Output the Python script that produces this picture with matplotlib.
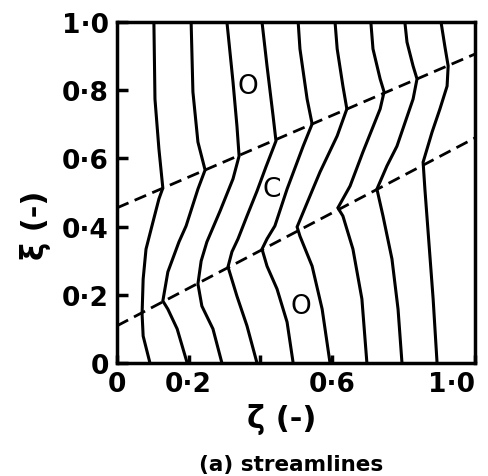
import matplotlib
matplotlib.use("Agg")
import matplotlib.pyplot as plt

# streamlines, listed bottom (xi = 0) to top (xi = 1)
zeta_1 = [0.092, 0.073, 0.070, 0.073, 0.081, 0.101, 0.117, 0.128, 0.117, 0.106, 0.103]
xi_1 = [0.0, 0.079, 0.144, 0.246, 0.334, 0.416, 0.481, 0.513, 0.628, 0.774, 1.0]

zeta_2 = [0.196, 0.168, 0.142, 0.128, 0.142, 0.173, 0.193, 0.226, 0.246, 0.226, 0.212, 0.207]
xi_2 = [0.0, 0.100, 0.158, 0.182, 0.267, 0.355, 0.402, 0.510, 0.566, 0.648, 0.795, 1.0]

zeta_3 = [0.293, 0.268, 0.237, 0.226, 0.235, 0.251, 0.288, 0.324, 0.341, 0.335, 0.324, 0.307]
xi_3 = [0.0, 0.100, 0.167, 0.232, 0.299, 0.355, 0.446, 0.540, 0.607, 0.695, 0.824, 1.0]

zeta_4 = [0.391, 0.363, 0.335, 0.310, 0.321, 0.338, 0.363, 0.391, 0.416, 0.444, 0.436, 0.419, 0.405]
xi_4 = [0.0, 0.109, 0.196, 0.282, 0.326, 0.364, 0.431, 0.504, 0.575, 0.651, 0.724, 0.871, 1.0]

zeta_5 = [0.492, 0.475, 0.447, 0.419, 0.405, 0.419, 0.441, 0.475, 0.520, 0.545, 0.531, 0.511, 0.506]
xi_5 = [0.0, 0.120, 0.217, 0.284, 0.334, 0.364, 0.402, 0.510, 0.636, 0.701, 0.774, 0.921, 1.0]

zeta_6 = [0.595, 0.573, 0.545, 0.511, 0.503, 0.547, 0.567, 0.615, 0.642, 0.631, 0.615, 0.609]
xi_6 = [0.0, 0.158, 0.284, 0.372, 0.399, 0.510, 0.560, 0.666, 0.745, 0.812, 0.921, 1.0]

zeta_7 = [0.698, 0.684, 0.659, 0.631, 0.617, 0.651, 0.687, 0.735, 0.746, 0.735, 0.715, 0.709]
xi_7 = [0.0, 0.188, 0.334, 0.431, 0.455, 0.519, 0.619, 0.745, 0.795, 0.833, 0.921, 1.0]

zeta_8 = [0.796, 0.785, 0.768, 0.743, 0.726, 0.754, 0.782, 0.827, 0.838, 0.827, 0.810, 0.804]
xi_8 = [0.0, 0.158, 0.305, 0.431, 0.510, 0.578, 0.636, 0.774, 0.833, 0.871, 0.941, 1.0]

zeta_9 = [0.894, 0.883, 0.869, 0.860, 0.855, 0.880, 0.902, 0.922, 0.925, 0.916, 0.905]
xi_9 = [0.0, 0.188, 0.384, 0.510, 0.589, 0.677, 0.745, 0.812, 0.871, 0.927, 1.0]

# zone boundaries (dashed)
upper_zeta = [0.0, 1.0]
upper_xi = [0.455, 0.906]
lower_zeta = [0.0, 1.0]
lower_xi = [0.109, 0.660]

# zone labels
zone_text = ["O", "C", "O"]
zone_zeta = [0.366, 0.433, 0.514]
zone_xi = [0.812, 0.510, 0.167]

xtick_vals = [0.0, 0.2, 0.4, 0.6, 1.0]
xtick_text = ["0", "0·2", "", "0·6", "1·0"]
ytick_vals = [0.0, 0.2, 0.4, 0.6, 0.8, 1.0]
ytick_text = ["0", "0·2", "0·4", "0·6", "0·8", "1·0"]

plt.rcParams["font.family"] = ["DejaVu Sans"]

fig = plt.figure(figsize=(4.89, 4.77), dpi=100)
ax = fig.add_axes([0.2393, 0.2369, 0.7321, 0.7149])

lines = [(zeta_1, xi_1), (zeta_2, xi_2), (zeta_3, xi_3), (zeta_4, xi_4),
         (zeta_5, xi_5), (zeta_6, xi_6), (zeta_7, xi_7), (zeta_8, xi_8),
         (zeta_9, xi_9)]
for z, x in lines:
    ax.plot(z, x, color="black", lw=2.2, solid_joinstyle="miter")

for z, x in [(upper_zeta, upper_xi), (lower_zeta, lower_xi)]:
    ax.plot(z, x, color="black", lw=2.0, dashes=(4.5, 2.4))

for t, z, x in zip(zone_text, zone_zeta, zone_xi):
    ax.text(z, x, t, ha="center", va="center", fontsize=19)

ax.set_xlim(0, 1)
ax.set_ylim(0, 1)
for s in ax.spines.values():
    s.set_linewidth(2.5)

ax.set_xticks(xtick_vals)
ax.set_xticklabels(xtick_text, fontsize=19, fontweight="bold")
ax.set_yticks(ytick_vals)
ax.set_yticklabels(ytick_text, fontsize=19, fontweight="bold")
ax.tick_params(axis="x", direction="in", length=6, width=2.5, pad=6)
ax.tick_params(axis="y", direction="in", length=8, width=2.5, pad=6)
# keep the last zeta label inside the figure edge
ax.get_xticklabels()[-1].set_ha("right")
ax.get_xticklabels()[-1].set_x(1.0)

ax.set_xlabel("ζ (-)", fontsize=22, fontweight="bold", va="center")
ax.xaxis.set_label_coords(0.461, -0.164)
ax.set_ylabel("ξ (-)", fontsize=22, fontweight="bold", va="center")
ax.yaxis.set_label_coords(-0.229, 0.408)

fig.text(291 / 489, 1 - 465 / 477, "(a) streamlines", ha="center", va="center",
         fontsize=15.5, fontweight="bold")

fig.savefig("out.png", dpi=100)
